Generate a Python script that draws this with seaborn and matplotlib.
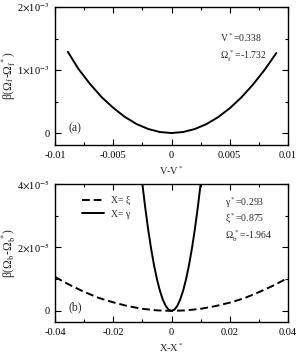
import numpy as np
import pandas as pd
import seaborn as sns
import matplotlib.pyplot as plt
from matplotlib.ticker import MultipleLocator, FixedFormatter, FixedLocator

# panel (a): beta(Omega_f - Omega_f*) vs V - V*
v_dev = [-0.0089, -0.008, -0.007, -0.006, -0.005, -0.004, -0.003, -0.002, -0.001, 0.0,
         0.001, 0.002, 0.003, 0.004, 0.005, 0.006, 0.007, 0.008, 0.009]
omega_f = [1.29e-3, 1.02e-3, 0.78e-3, 0.57e-3, 0.40e-3, 0.255e-3, 0.143e-3, 0.064e-3, 0.016e-3, 0.0,
           0.016e-3, 0.063e-3, 0.142e-3, 0.252e-3, 0.393e-3, 0.566e-3, 0.77e-3, 1.005e-3, 1.27e-3]

# panel (b): beta(Omega_b - Omega_b*) vs X - X*
xi_dev = [-0.04, -0.035, -0.03, -0.025, -0.02, -0.015, -0.01, -0.005, 0.0,
          0.005, 0.01, 0.015, 0.02, 0.025, 0.03, 0.035, 0.04]
omega_xi = [1.07e-5, 0.82e-5, 0.60e-5, 0.41e-5, 0.27e-5, 0.15e-5, 0.066e-5, 0.017e-5, 0.0,
            0.017e-5, 0.066e-5, 0.15e-5, 0.26e-5, 0.40e-5, 0.59e-5, 0.80e-5, 1.04e-5]
gamma_dev = [-0.0105, -0.01, -0.009, -0.008, -0.007, -0.006, -0.005, -0.004, -0.003, -0.002, -0.001, 0.0,
             0.001, 0.002, 0.003, 0.004, 0.005, 0.006, 0.007, 0.008, 0.009, 0.01, 0.0105]
omega_gamma = [4.4e-5, 4.0e-5, 3.24e-5, 2.56e-5, 1.96e-5, 1.44e-5, 1.0e-5, 0.64e-5, 0.36e-5, 0.16e-5, 0.04e-5, 0.0,
               0.04e-5, 0.16e-5, 0.36e-5, 0.64e-5, 1.0e-5, 1.44e-5, 1.96e-5, 2.56e-5, 3.24e-5, 4.0e-5, 4.4e-5]

sns.set_style("ticks")
plt.rcParams['font.family'] = ['Liberation Serif', 'DejaVu Serif']
plt.rcParams['mathtext.fontset'] = 'stix'
plt.rcParams['font.size'] = 7.5

FS = 7.5
FS_LABEL = 8.5
FS_NOTE = 7
LW = 1.4

fig = plt.figure(figsize=(3.0, 3.54), dpi=100)
ax1 = fig.add_axes([55 / 300, 1 - 145 / 354, 233 / 300, 138 / 354])
ax2 = fig.add_axes([55 / 300, 1 - 322 / 354, 233 / 300, 138 / 354])

sns.lineplot(x=v_dev, y=omega_f, ax=ax1, color='black', lw=LW, sort=False)
sns.lineplot(x=xi_dev, y=omega_xi, ax=ax2, color='black', lw=LW, sort=False,
             label='X= ξ')
ax2.lines[0].set_dashes([4, 2])
sns.lineplot(x=gamma_dev, y=omega_gamma, ax=ax2, color='black', lw=LW, sort=False,
             label='X= γ')


def style_axes(ax):
    for sp in ax.spines.values():
        sp.set_linewidth(1.0)
        sp.set_color('black')
    ax.tick_params(which='both', direction='in', top=True, right=True,
                   width=0.8, colors='black', labelsize=FS, pad=4)
    ax.tick_params(which='major', length=4)
    ax.tick_params(which='minor', length=2.5)


# panel (a)
ax1.set_xlim(-0.01, 0.01)
ax1.set_ylim(-0.19e-3, 2e-3)
ax1.xaxis.set_major_locator(FixedLocator([-0.01, -0.005, 0, 0.005, 0.01]))
ax1.xaxis.set_major_formatter(FixedFormatter(['-0.01', '-0.005', '0', '0.005', '0.01']))
ax1.xaxis.set_minor_locator(MultipleLocator(0.0025))
ax1.yaxis.set_major_locator(FixedLocator([0, 1e-3, 2e-3]))
ax1.yaxis.set_major_formatter(FixedFormatter(['0', r'1$\times$10$^{-3}$', r'2$\times$10$^{-3}$']))
ax1.yaxis.set_minor_locator(MultipleLocator(0.5e-3))
ax1.set_xlabel(r'V-V$^*$', fontsize=FS, labelpad=3)
ax1.set_ylabel(r'β(Ω$_{\rm f}$-Ω$_{\rm f}^{\;*}$)', fontsize=FS_LABEL)
ax1.yaxis.set_label_coords(-0.16, 0.5)
ax1.text(0.06, 0.12, '(a)', transform=ax1.transAxes, fontsize=FS_LABEL, va='center')
ax1.text(0.71, 0.775, r'V$^*$=0.338', transform=ax1.transAxes, fontsize=FS_NOTE, va='center')
ax1.text(0.71, 0.645, r'Ω$_{\rm f}^{\;*}$=-1.732', transform=ax1.transAxes, fontsize=FS_NOTE, va='center')
style_axes(ax1)

# panel (b)
ax2.set_xlim(-0.04, 0.04)
ax2.set_ylim(-0.35e-5, 4e-5)
ax2.xaxis.set_major_locator(FixedLocator([-0.04, -0.02, 0, 0.02, 0.04]))
ax2.xaxis.set_major_formatter(FixedFormatter(['-0.04', '-0.02', '0', '0.02', '0.04']))
ax2.xaxis.set_minor_locator(MultipleLocator(0.01))
ax2.yaxis.set_major_locator(FixedLocator([0, 2e-5, 4e-5]))
ax2.yaxis.set_major_formatter(FixedFormatter(['0', r'2$\times$10$^{-5}$', r'4$\times$10$^{-5}$']))
ax2.yaxis.set_minor_locator(MultipleLocator(1e-5))
ax2.set_xlabel(r'X-X$^*$', fontsize=FS, labelpad=3)
ax2.set_ylabel(r'β(Ω$_{\rm b}$-Ω$_{\rm b}^{\;*}$)', fontsize=FS_LABEL)
ax2.yaxis.set_label_coords(-0.16, 0.5)
ax2.text(0.06, 0.11, '(b)', transform=ax2.transAxes, fontsize=FS_LABEL, va='center')
ax2.text(0.73, 0.865, r'γ$^*$=0.293', transform=ax2.transAxes, fontsize=FS_NOTE, va='center')
ax2.text(0.73, 0.75, r'ξ$^*$=0.875', transform=ax2.transAxes, fontsize=FS_NOTE, va='center')
ax2.text(0.73, 0.625, r'Ω$_{\rm b}^{\;*}$=-1.964', transform=ax2.transAxes, fontsize=FS_NOTE, va='center')
leg = ax2.legend(loc='upper left', bbox_to_anchor=(0.1, 0.94), frameon=False, fontsize=FS_NOTE,
                 handlelength=2.2, handletextpad=0.8, borderaxespad=0.0, labelspacing=0.45)
style_axes(ax2)

fig.savefig('out.png', dpi=100)
